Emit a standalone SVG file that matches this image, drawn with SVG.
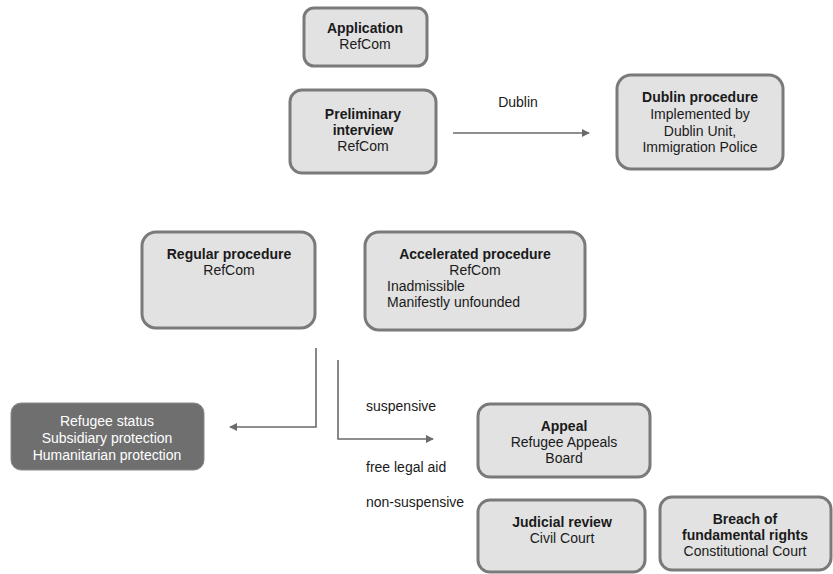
<svg xmlns="http://www.w3.org/2000/svg" width="833" height="574" viewBox="0 0 833 574">
<style>
.box{fill:#e2e2e2;stroke:#7a7a7a;stroke-width:3}
.dark{fill:#6f6f6f;stroke:#8a8a8a;stroke-width:1}
text{font-family:"Liberation Sans",Arial,sans-serif;font-size:14px;fill:#1a1a1a}
.c{text-anchor:middle}
.b{font-weight:bold}
.w{fill:#ffffff}
.conn{fill:none;stroke:#6a6a6a;stroke-width:1.6}
</style>
<defs>
<marker id="ah" viewBox="0 0 10 10" refX="9" refY="5" markerWidth="8" markerHeight="8" markerUnits="userSpaceOnUse" orient="auto">
<path d="M0,0 L10,5 L0,10 z" fill="#6a6a6a"/>
</marker>
</defs>
<rect width="833" height="574" fill="#ffffff"/>
<g id="connectors">
<line class="conn" x1="453" y1="133" x2="589" y2="133" marker-end="url(#ah)"/>
<polyline class="conn" points="316,348 316,427 230,427" marker-end="url(#ah)"/>
<polyline class="conn" points="338,360 338,439 433,439" marker-end="url(#ah)"/>
<text x="518" y="107" class="c">Dublin</text>
<text x="366" y="411">suspensive</text>
<text x="366" y="472">free legal aid</text>
<text x="366" y="507">non-suspensive</text>
</g>
<g id="application">
<rect class="box" x="304" y="8" width="123" height="58" rx="10"/>
<text x="365" y="33" class="c b">Application</text>
<text x="365" y="49" class="c">RefCom</text>
</g>
<g id="preliminary">
<rect class="box" x="290" y="90" width="146" height="83" rx="12"/>
<text x="363" y="119" class="c b">Preliminary</text>
<text x="363" y="135" class="c b">interview</text>
<text x="363" y="151" class="c">RefCom</text>
</g>
<g id="dublin">
<rect class="box" x="617" y="75" width="166" height="94" rx="14"/>
<text x="700" y="102" class="c b">Dublin procedure</text>
<text x="700" y="119" class="c">Implemented by</text>
<text x="700" y="136" class="c">Dublin Unit,</text>
<text x="700" y="152" class="c">Immigration Police</text>
</g>
<g id="regular">
<rect class="box" x="142" y="232" width="173" height="96" rx="14"/>
<text x="229" y="259" class="c b">Regular procedure</text>
<text x="229" y="275" class="c">RefCom</text>
</g>
<g id="accelerated">
<rect class="box" x="365" y="232" width="220" height="98" rx="14"/>
<text x="475" y="259" class="c b">Accelerated procedure</text>
<text x="475" y="275" class="c">RefCom</text>
<text x="387" y="291">Inadmissible</text>
<text x="387" y="307">Manifestly unfounded</text>
</g>
<g id="refugee">
<rect class="dark" x="11" y="403" width="193" height="67" rx="10"/>
<text x="107" y="426" class="c w">Refugee status</text>
<text x="107" y="443" class="c w">Subsidiary protection</text>
<text x="107" y="460" class="c w">Humanitarian protection</text>
</g>
<g id="appeal">
<rect class="box" x="478" y="404" width="172" height="73" rx="12"/>
<text x="564" y="431" class="c b">Appeal</text>
<text x="564" y="447" class="c">Refugee Appeals</text>
<text x="564" y="463" class="c">Board</text>
</g>
<g id="judicial">
<rect class="box" x="478" y="500" width="167" height="72" rx="12"/>
<text x="562" y="527" class="c b">Judicial review</text>
<text x="562" y="543" class="c">Civil Court</text>
</g>
<g id="breach">
<rect class="box" x="660" y="497" width="171" height="73" rx="12"/>
<text x="745" y="524" class="c b">Breach of</text>
<text x="745" y="540" class="c b">fundamental rights</text>
<text x="745" y="556" class="c">Constitutional Court</text>
</g>
</svg>
